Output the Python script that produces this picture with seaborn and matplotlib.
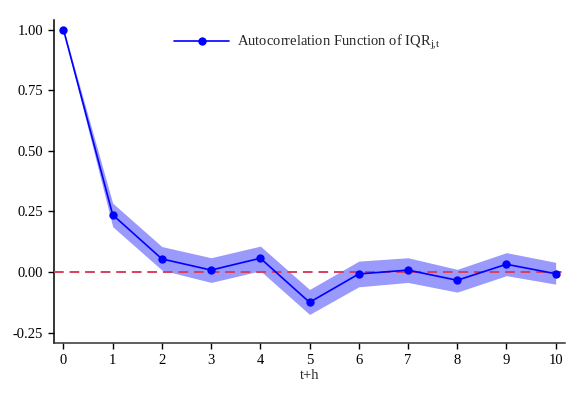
import matplotlib
matplotlib.use("Agg")
import matplotlib.pyplot as plt
import seaborn as sns
import pandas as pd

# Autocorrelation of IQR by horizon, with confidence band
horizon = [0, 1, 2, 3, 4, 5, 6, 7, 8, 9, 10]
acf = [1.000, 0.236, 0.054, 0.008, 0.057, -0.125, -0.008, 0.008, -0.034, 0.032, -0.007]
lower = [0.995, 0.187, 0.008, -0.043, 0.005, -0.175, -0.061, -0.043, -0.083, -0.015, -0.050]
upper = [1.005, 0.284, 0.105, 0.059, 0.107, -0.072, 0.045, 0.059, 0.011, 0.080, 0.040]
yticks = [-0.25, 0.00, 0.25, 0.50, 0.75, 1.00]

sns.set_style("ticks")
plt.rcParams["font.family"] = ["Liberation Serif", "DejaVu Serif"]
plt.rcParams["mathtext.fontset"] = "custom"
plt.rcParams["mathtext.rm"] = "Liberation Serif"
plt.rcParams["mathtext.it"] = "Liberation Serif"

df = pd.DataFrame({"h": horizon, "acf": acf})

fig = plt.figure(figsize=(5.8, 4.01), dpi=100)
ax = fig.add_axes([0.0931, 0.1446, 0.881, 0.806])

ax.fill_between(horizon, lower, upper, color="#9a9afc", linewidth=0)
ax.axhline(0, color="#d6405f", linestyle=(0, (5, 3)), linewidth=1.4, zorder=3)
sns.lineplot(data=df, x="h", y="acf", ax=ax, color="#0000ff", linewidth=1.2,
             marker="o", markersize=6, markeredgewidth=0,
             label=r"Autocorrelation Function of IQR$_{\mathregular{j{,}t}}$", zorder=4)

ax.set_xlim(-0.193, 10.19)
ax.set_ylim(-0.293, 1.041)
ax.set_xticks(horizon)
ax.set_yticks(yticks)
ax.set_yticklabels([f"{v:.2f}" for v in yticks])
ax.set_xlabel("t+h", fontsize=10.5, labelpad=1)
ax.set_ylabel("")
ax.tick_params(axis="both", labelsize=10.5, direction="out", length=4.5, width=1, colors="black")
sns.despine(ax=ax)
ax.spines["left"].set_linewidth(1.1)
ax.spines["left"].set_color("black")
ax.spines["bottom"].set_linewidth(1.1)
ax.spines["bottom"].set_color("#333333")

ax.legend(loc="upper left", bbox_to_anchor=(0.209, 1.0), frameon=False,
          fontsize=10.5, handlelength=3.8, handletextpad=0.5)

fig.savefig("out.png", dpi=100)
